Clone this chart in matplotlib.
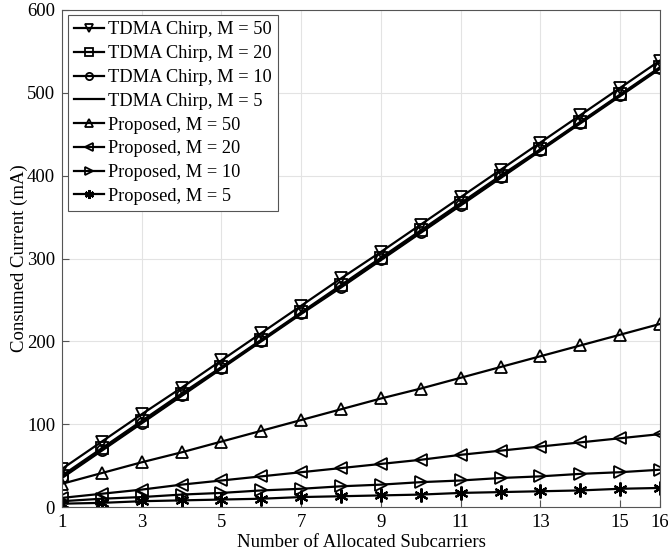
import matplotlib.pyplot as plt

plt.rcParams['font.family'] = ['Liberation Serif', 'DejaVu Serif']

# number of allocated subcarriers
subcarriers = list(range(1, 17))

# consumed current (mA), TDMA chirp scheme
tdma_m50 = [46, 79, 112, 144, 177, 210, 243, 276, 308, 341, 374, 407, 440, 473, 506, 539]
tdma_m20 = [38, 71, 104, 137, 169, 202, 235, 268, 301, 334, 367, 400, 432, 465, 498, 531]
tdma_m10 = [36, 69, 102, 135, 168, 201, 234, 266, 299, 332, 365, 398, 431, 464, 497, 530]
tdma_m5 = [35, 68, 101, 134, 167, 200, 233, 265, 298, 331, 364, 397, 430, 463, 496, 529]

# consumed current (mA), proposed scheme
prop_m50 = [28, 41, 54, 66, 79, 92, 105, 118, 131, 143, 156, 169, 182, 195, 208, 221]
prop_m20 = [11, 16, 21, 27, 32, 37, 42, 47, 52, 57, 63, 68, 73, 78, 83, 88]
prop_m10 = [7, 10, 12, 15, 17, 20, 22, 25, 27, 30, 32, 35, 37, 40, 42, 45]
prop_m5 = [4, 5, 7, 8, 9, 10, 12, 13, 14, 15, 17, 18, 19, 20, 22, 23]

# asterisk marker: six thin spokes
asterisk = (6, 2, 0)

series = [
    (tdma_m50, 'v', 'TDMA Chirp, M = 50'),
    (tdma_m20, 's', 'TDMA Chirp, M = 20'),
    (tdma_m10, 'o', 'TDMA Chirp, M = 10'),
    (tdma_m5, None, 'TDMA Chirp, M = 5'),
    (prop_m50, '^', 'Proposed, M = 50'),
    (prop_m20, '<', 'Proposed, M = 20'),
    (prop_m10, '>', 'Proposed, M = 10'),
    (prop_m5, asterisk, 'Proposed, M = 5'),
]

fig = plt.figure(figsize=(6.68, 5.6), dpi=100)
ax = fig.add_axes([62 / 668, 53 / 560, 598 / 668, 497 / 560])

for values, marker, label in series:
    ax.plot(subcarriers, values, color='black', linewidth=1.6, marker=marker,
            markersize=8 if marker != asterisk else 10, markerfacecolor='none',
            markeredgewidth=1.3 if marker != asterisk else 1.6, label=label)

ax.set_xlim(1, 16)
ax.set_ylim(0, 600)
ax.set_xticks([1, 3, 5, 7, 9, 11, 13, 15, 16])
ax.set_yticks(range(0, 601, 100))
ax.tick_params(direction='in', labelsize=13.5, length=5, pad=5, color='#555555')
ax.grid(True, color='#e3e3e3', linewidth=0.8)
ax.set_axisbelow(True)
for spine in ax.spines.values():
    spine.set_color('#555555')
    spine.set_linewidth(0.8)

ax.set_xlabel('Number of Allocated Subcarriers', fontsize=13.5, labelpad=2)
ax.set_ylabel('Consumed Current (mA)', fontsize=13.5, labelpad=-0.5)

leg = ax.legend(loc='upper left', bbox_to_anchor=(0.010, 0.990), borderaxespad=0,
                fontsize=13.2, frameon=True, fancybox=False, framealpha=1,
                edgecolor='#555555', borderpad=0.35, labelspacing=0.37,
                handlelength=1.6, handletextpad=0.25, markerscale=0.65)
leg.get_frame().set_linewidth(0.8)

fig.savefig('out.png', dpi=100)
